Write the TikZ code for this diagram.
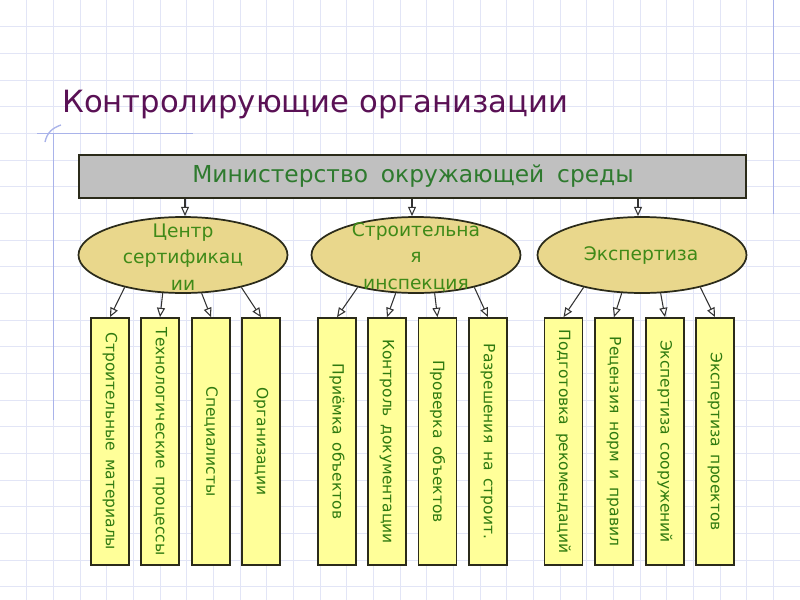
\documentclass[tikz,border=0pt]{standalone}
\usepackage{fontspec}
\setmainfont{DejaVu Sans}
\usetikzlibrary{shapes.geometric,arrows.meta}
\definecolor{gridc}{HTML}{E2E5F6}
\definecolor{marginc}{HTML}{A9B3EA}
\definecolor{titlec}{HTML}{5A1155}
\definecolor{topfill}{HTML}{C0C0C0}
\definecolor{toptext}{HTML}{2E7A2E}
\definecolor{ellfill}{HTML}{E9D78C}
\definecolor{elltext}{HTML}{3F8A18}
\definecolor{boxfill}{HTML}{FFFF99}
\definecolor{boxtext}{HTML}{2F7A10}
\definecolor{edgec}{HTML}{2B2B1A}
\tikzset{
  gridline/.style={draw=gridc, line width=0.7pt},
  marginline/.style={draw=marginc, line width=1pt},
  topbox/.style={draw=edgec, line width=1.3pt, fill=topfill, minimum width=500.25pt, minimum height=32.25pt, inner sep=0pt},
  toplabel/.style={text=toptext, font=\fontsize{17.5pt}{20pt}\selectfont, inner sep=0pt},
  ell/.style={ellipse, draw=edgec, line width=1.3pt, fill=ellfill, minimum width=156.75pt, minimum height=57pt, inner sep=0pt},
  elllabel/.style={text=elltext, font=\fontsize{14pt}{19.8pt}\selectfont, align=center, inner sep=0pt},
  vbox/.style={draw=edgec, line width=1.3pt, fill=boxfill, minimum width=28.5pt, minimum height=185.25pt, inner sep=0pt},
  vlabel/.style={text=boxtext, font=\fontsize{11.6pt}{13pt}\selectfont, rotate=-90, inner sep=0pt},
  arr/.style={draw=black!80, line width=0.8pt, -{Triangle[open, length=7pt, width=6pt, fill=white]}},
}
\newcommand{\ws}{\hspace{0.5em}}
\newcommand{\wt}{\hspace{0.55em}}
\begin{document}
\begin{tikzpicture}[x=0.75pt, y=-0.75pt]
\useasboundingbox (0,0) rectangle (800,600);
\fill[white] (0,0) rectangle (800,600);
% grid
\foreach \i in {1,...,29} \draw[gridline] (\i*26.6667,0) -- (\i*26.6667,600);
\foreach \j in {1,...,22} \draw[gridline] (0,\j*26.6667) -- (800,\j*26.6667);
% margins
\draw[marginline] (773.3,0) -- (773.3,214);
\draw[marginline] (37,133.3) -- (193,133.3);
\draw[marginline] (53.3,133.3) -- (53.3,420);
\draw[marginline] (45,142) .. controls (47,133) and (52,128) .. (61,125);
% title
\node[anchor=base west, text=titlec, font=\fontsize{23pt}{28pt}\selectfont, inner sep=0pt] (title) at (62,112) {Контролирующие организации};
% top box
\node[topbox] (top) at (412.5,176.5) {};
\node[toplabel] (toplab) at (413,176) {Министерство\wt окружающей\wt среды};
% ellipses
\node[ell] (e1) at (183,255) {};
\node[ell] (e2) at (416,255) {};
\node[ell] (e3) at (642,255) {};
\node[elllabel] (l1) at (183,257) {Центр\\сертификац\\ии};
\node[elllabel] (l2) at (416,257) {Строительна\\я\\инспекция};
\node[elllabel] (l3) at (641,256) {Экспертиза};
% top arrows
\draw[arr] (top.south -| 185,0) -- (e1.north -| 185,0);
\draw[arr] (top.south -| 412,0) -- (e2.north -| 412,0);
\draw[arr] (top.south -| 638,0) -- (e3.north -| 638,0);
% vertical boxes
\foreach \n/\x in {b1/110, b2/160, b3/211, b4/261, b5/337, b6/387, b7/437.5, b8/488, b9/563.5, b10/614, b11/665, b12/715}
  \node[vbox] (\n) at (\x,441.5) {};
\node[vlabel] (t1) at (b1) {Строительные\ws материалы};
\node[vlabel] (t2) at (b2) {Технологические\ws процессы};
\node[vlabel] (t3) at (b3) {Специалисты};
\node[vlabel] (t4) at (b4) {Организации};
\node[vlabel] (t5) at (b5) {Приёмка\ws объектов};
\node[vlabel] (t6) at (b6) {Контроль\ws документации};
\node[vlabel] (t7) at (b7) {Проверка\ws объектов};
\node[vlabel] (t8) at (b8) {Разрешения\ws на\ws строит.};
\node[vlabel] (t9) at (b9) {Подготовка\ws рекомендаций};
\node[vlabel] (t10) at (b10) {Рецензия\ws норм\ws и\ws правил};
\node[vlabel] (t11) at (b11) {Экспертиза\ws сооружений};
\node[vlabel] (t12) at (b12) {Экспертиза\ws проектов};
% lower arrows
\draw[arr] (e1.209) -- (b1.north);
\draw[arr] (e1.242) -- (b2.north);
\draw[arr] (e1.296) -- (b3.north);
\draw[arr] (e1.331) -- (b4.north);
\draw[arr] (e2.209) -- (b5.north);
\draw[arr] (e2.242) -- (b6.north);
\draw[arr] (e2.296) -- (b7.north);
\draw[arr] (e2.331) -- (b8.north);
\draw[arr] (e3.209) -- (b9.north);
\draw[arr] (e3.242) -- (b10.north);
\draw[arr] (e3.296) -- (b11.north);
\draw[arr] (e3.331) -- (b12.north);
\end{tikzpicture}
\end{document}
